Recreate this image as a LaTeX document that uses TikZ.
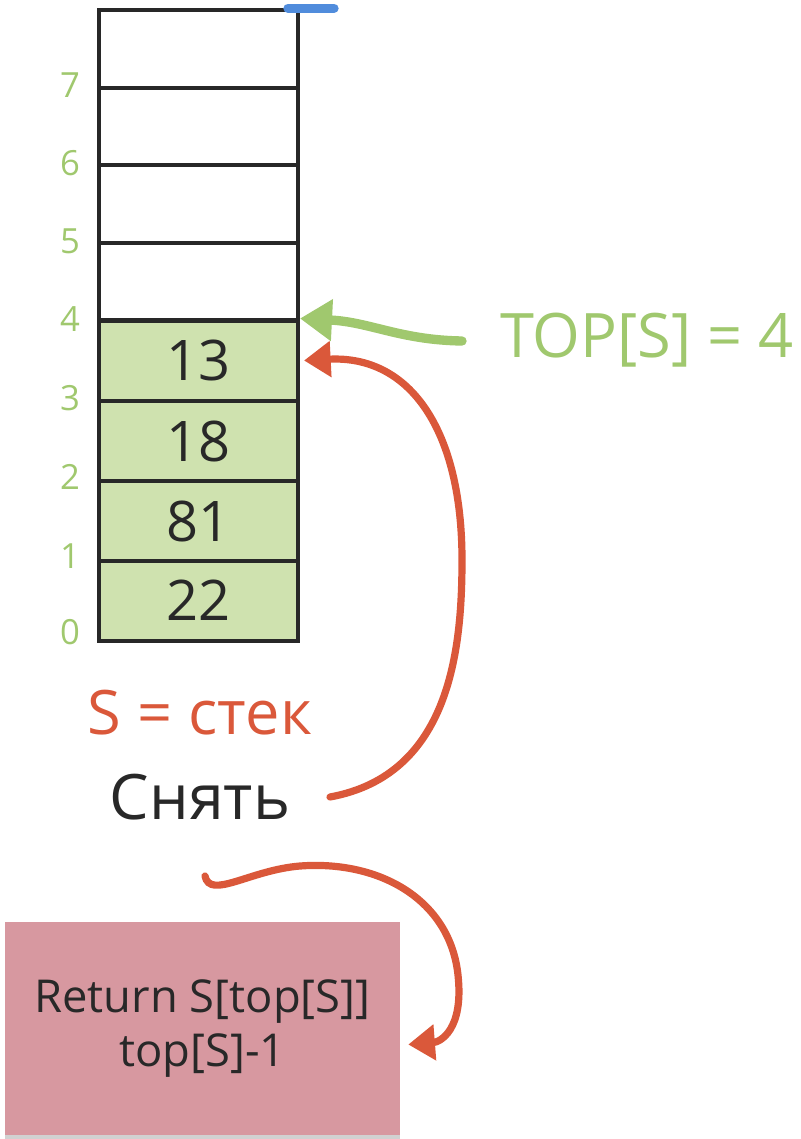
\documentclass[tikz,border=0pt]{standalone}
\usepackage{fontspec}
\setmainfont{Open Sans}
\usetikzlibrary{arrows.meta,shadows}
\definecolor{idxgreen}{RGB}{160,200,110}
\definecolor{cellgreen}{RGB}{207,226,175}
\definecolor{arrred}{RGB}{218,88,58}
\definecolor{markblue}{RGB}{80,140,220}
\definecolor{boxpink}{RGB}{215,152,160}
\definecolor{ink}{RGB}{40,40,40}
\tikzset{
  cell/.style={draw=ink, line width=3pt, minimum width=149.25pt, inner sep=0pt, font=\fontsize{42}{46}\selectfont, text=ink},
  upcell/.style={cell, minimum height=58.1pt},
  lowcell/.style={cell, fill=cellgreen, minimum height=60pt},
  idx/.style={text=idxgreen, font=\fontsize{26}{28}\selectfont, inner sep=0pt},
  garrow/.style={draw=idxgreen, line width=7pt, line cap=round, -{Triangle[length=24pt,width=30pt]}},
  rarrow/.style={draw=arrred, line width=5.4pt, line cap=round, -{Triangle[length=20pt,width=26pt]}},
}
\begin{document}
\begin{tikzpicture}[x=0.75pt,y=-0.75pt]
\useasboundingbox (0,0) rectangle (800,1139);
% stack cells
\node[upcell] (c7) at (198.5,49) {};
\node[upcell] (c6) at (198.5,126.5) {};
\node[upcell] (c5) at (198.5,204) {};
\node[upcell] (c4) at (198.5,281.5) {};
\node[lowcell] (c3) at (198.5,360.5) {13};
\node[lowcell] (c2) at (198.5,441) {18};
\node[lowcell] (c1) at (198.5,521) {81};
\node[lowcell] (c0) at (198.5,600.5) {22};
% blue mark
\draw[markblue, line width=7pt, line cap=round] (c7.north east) ++(-12,0) coordinate (b1) -- ++(46,0) coordinate (b2);
% indices
\node[idx] (i7) at (70,85) {7};
\node[idx] (i6) at (70,163) {6};
\node[idx] (i5) at (70,241) {5};
\node[idx] (i4) at (70,319) {4};
\node[idx] (i3) at (70,398) {3};
\node[idx] (i2) at (70,477) {2};
\node[idx] (i1) at (70,556) {1};
\node[idx] (i0) at (70,632) {0};
% TOP label
\node[text=idxgreen, font=\fontsize{46}{50}\selectfont, anchor=west, inner sep=0pt] (top) at (500,340) {TOP[S] = 4};
\draw[garrow] (462,341) .. controls (400,340) and (370,322) .. (c3.north east);
% labels
\node[text=arrred, font=\fontsize{46}{50}\selectfont, inner sep=0pt] (sst) at (200,713) {S = стек};
\node[text=ink, font=\fontsize{47}{50}\selectfont, inner sep=0pt] (pop) at (200,797) {Снять};
\draw[rarrow] (330,797) .. controls (450,775) and (462,650) .. (462,560) .. controls (462,430) and (410,355) .. ([xshift=3]c3.east);
% box
\node[fill=boxpink, minimum width=296.25pt, minimum height=159.75pt, inner sep=0pt, align=center, text=ink,
      font=\fontsize{34}{40}\selectfont,
      drop shadow={shadow xshift=0pt, shadow yshift=-3pt, opacity=0.3, fill=black!60}] (box) at (202.5,1028.5) {Return S[top[S]]\\top[S]-1};
\coordinate (st) at (205,876);
\draw[rarrow] (st) .. controls (210,900) and (250,870) .. (300,866) .. controls (380,860) and (450,900) .. (458,975) .. controls (464,1030) and (440,1042) .. ([xshift=6pt,yshift=-12pt]box.east);
\end{tikzpicture}
\end{document}
